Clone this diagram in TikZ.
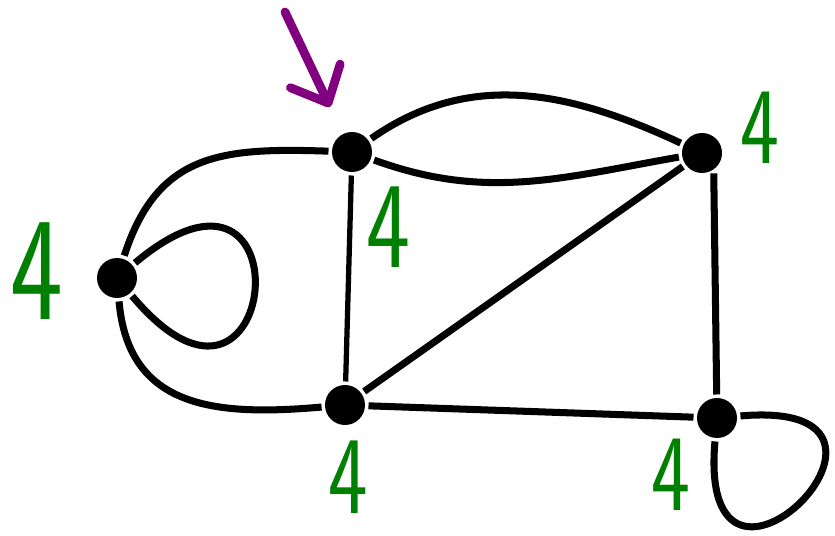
\documentclass[tikz,border=0pt]{standalone}
\usepackage{fontspec}
\usetikzlibrary{arrows.meta}
\definecolor{degreegreen}{RGB}{0,128,0}
\definecolor{markpurple}{RGB}{128,0,128}
% handwritten-looking degree label, optional size in pt
\newcommand{\degnum}[1][70]{\scalebox{0.76}[1]{\fontsize{#1}{#1}\selectfont\sffamily 4}}

\begin{document}
\begin{tikzpicture}[x=0.02cm, y=0.02cm, line width=4pt,
  vert/.style={circle, fill, inner sep=0pt, minimum size=0.8cm},
  degree/.style={text=degreegreen, inner sep=0pt}]
  \useasboundingbox (0,0) rectangle (835,535);
  % vertices
  \node[vert] (A) at (352,383) {};
  \node[vert] (B) at (702,382) {};
  \node[vert] (C) at (117,257) {};
  \node[vert] (D) at (345,130) {};
  \node[vert] (E) at (717,117) {};
  % edges
  \draw (A) to[out=35,in=155] (B);
  \draw (A) to[out=-20,in=190] (B);
  \draw[line width=3pt] (A) -- (D);
  \draw (B.-60) -- (E);
  \draw (D) -- (B);
  \draw (D) -- (E);
  \draw (C) to[out=72,in=178,looseness=1.2] (A);
  \draw (C) to[out=-85,in=185,looseness=1.2] (D);
  % loops
  \draw (C) to[out=40,in=-50,distance=4.6cm] (C);
  \draw (E) to[out=5,in=-95,distance=4.3cm] (E);
  % degrees
  \node[degree] (degC) at (37,264) {\degnum[84]};
  \node[degree] (degA) at (388,308) {\degnum};
  \node[degree] (degB) at (760,407) {\degnum[62]};
  \node[degree] (degD) at (348,58) {\degnum[63]};
  \node[degree] (degE) at (671,60) {\degnum[62]};
  % marker arrow
  \coordinate (tail) at (285,523);
  \coordinate (tip) at (330,428);
  \draw[markpurple, line width=5pt, line cap=round,
    -{Straight Barb[length=6mm, width=11mm, line cap=round, round]}] (tail) -- (tip);
\end{tikzpicture}
\end{document}
